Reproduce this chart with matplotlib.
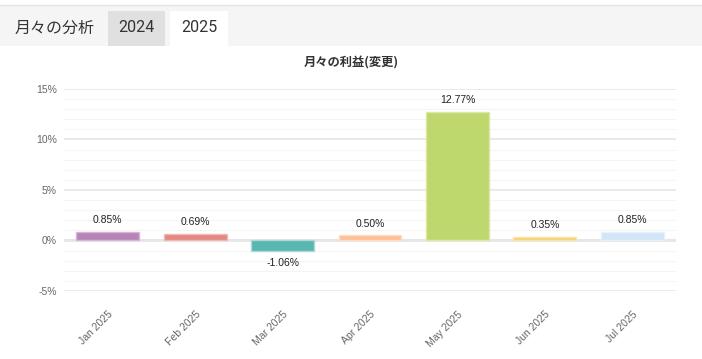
import matplotlib
matplotlib.use("Agg")
import matplotlib.pyplot as plt
from matplotlib.patches import Rectangle
from matplotlib.ticker import MultipleLocator, FuncFormatter

months = ["Jan 2025", "Feb 2025", "Mar 2025", "Apr 2025", "May 2025", "Jun 2025", "Jul 2025"]
profits = [0.85, 0.69, -1.06, 0.50, 12.77, 0.35, 0.85]
bar_colors = ["#b784b7", "#e48681", "#5bb5b1", "#ffbf95", "#bfd86d", "#f8d26f", "#d2e6f8"]
edge_colors = ["#d8b4d8", "#f2b9b6", "#a9dcd9", "#ffdcc4", "#d9e9a4", "#fbe4a8", "#e6f1fb"]
tabs = ["2024", "2025"]

W, H = 702, 359
fig = plt.figure(figsize=(W / 100, H / 100), dpi=100)
fig.patch.set_facecolor("white")

def px(x, y, w, h):
    return (x / W, 1 - (y + h) / H), w / W, h / H

# header bar
xy, w, h = px(0, 5, 702, 41)
fig.add_artist(Rectangle(xy, w, h, transform=fig.transFigure, facecolor="#f5f5f5", edgecolor="none"))
fig.add_artist(plt.Line2D([0, 1], [1 - 5 / H, 1 - 5 / H], transform=fig.transFigure, color="#e3e3e3", lw=1))
xy, w, h = px(108, 11, 57, 35)
fig.add_artist(Rectangle(xy, w, h, transform=fig.transFigure, facecolor="#e0e0e0", edgecolor="none"))
xy, w, h = px(170, 11, 58, 35)
fig.add_artist(Rectangle(xy, w, h, transform=fig.transFigure, facecolor="white", edgecolor="none"))

fig.text(15 / W, 1 - 28 / H, "月々の分析", family=["Noto Sans CJK JP", "DejaVu Sans"],
         fontsize=11.5, color="#333333", va="center", ha="left")
fig.text(136.5 / W, 1 - 28 / H, tabs[0], family="Roboto", fontsize=11.5, color="#333333", va="center", ha="center")
fig.text(199 / W, 1 - 28 / H, tabs[1], family="Roboto", fontsize=11.5, color="#333333", va="center", ha="center")

# chart title
fig.text(351 / W, 1 - 63 / H, "月々の利益(変更)", family=["Noto Sans CJK JP", "DejaVu Sans"],
         fontsize=8.8, fontweight="bold", color="#333333", va="center", ha="center")

ax = fig.add_axes([64 / W, 1 - 291 / H, 612 / W, 202 / H])
x = range(len(months))
ax.bar(x, profits, width=0.72, color=bar_colors, edgecolor=edge_colors, linewidth=1, zorder=3)
ax.set_xlim(-0.5, len(months) - 0.5)
ax.set_ylim(-5, 15)

ax.yaxis.set_major_locator(MultipleLocator(5))
ax.yaxis.set_minor_locator(MultipleLocator(1))
ax.yaxis.set_major_formatter(FuncFormatter(lambda v, p: f"{v:.0f}%"))
ax.grid(which="major", axis="y", color="#e6e6e6", lw=1.2, zorder=0)
ax.grid(which="minor", axis="y", color="#f5f5f5", lw=0.8, zorder=0)
ax.axhline(0, color="#e6e6e6", lw=2, zorder=1)
for s in ax.spines.values():
    s.set_visible(False)
ax.tick_params(axis="both", which="both", length=0)
ax.tick_params(axis="y", labelsize=7.5, labelcolor="#666666", pad=5)
ax.set_xticks(list(x))
ax.set_xticklabels(months, rotation=45, ha="right", rotation_mode="anchor",
                   fontsize=7.5, color="#666666", family="Liberation Sans")
ax.tick_params(axis="x", pad=13)
for lbl in ax.get_yticklabels():
    lbl.set_family("Liberation Sans")

for i, v in enumerate(profits):
    if v >= 0:
        ax.annotate(f"{v:.2f}%", (i, v), xytext=(0, 5), textcoords="offset points",
                    ha="center", va="bottom", fontsize=7.5, color="#222222", family="Liberation Sans")
    else:
        ax.annotate(f"{v:.2f}%", (i, v), xytext=(0, -5), textcoords="offset points",
                    ha="center", va="top", fontsize=7.5, color="#222222", family="Liberation Sans")

fig.savefig("out.png", dpi=100)
